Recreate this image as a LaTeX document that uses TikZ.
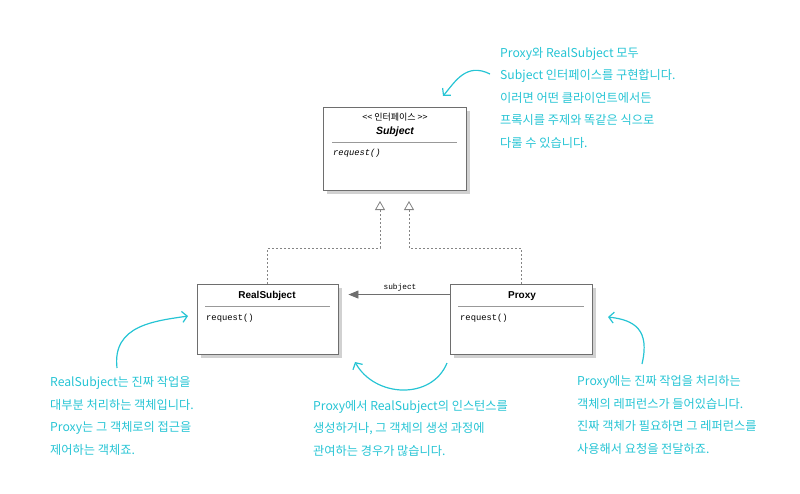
\documentclass[tikz,border=0pt]{standalone}
\usepackage{fontspec}
\setmainfont{Liberation Sans}
\newfontfamily\cjk{Noto Sans CJK KR}
\newfontfamily\monof{Liberation Mono}
\usetikzlibrary{arrows.meta,shadows,calc}
\definecolor{anno}{RGB}{38,196,212}
\definecolor{umlline}{RGB}{110,110,110}
\begin{document}
\begin{tikzpicture}[x=1pt,y=-1pt,
 umlbox/.style={draw=umlline, line width=0.9pt, fill=white, inner sep=0pt,
   drop shadow={shadow xshift=4pt, shadow yshift=-4pt, fill=black!18, opacity=1}},
 sepline/.style={draw=black!40, line width=0.8pt},
 boxtitle/.style={font=\fontsize{10}{12}\selectfont\bfseries, inner sep=0pt},
 method/.style={font=\monof\fontsize{8.8}{10}\selectfont, inner sep=0pt, anchor=west},
 realize/.style={draw=umlline!85, dash pattern=on 2pt off 2pt, line width=0.8pt,
   -{Triangle[open,length=9pt,width=10pt,fill=white]}},
 assoc/.style={draw=umlline, line width=0.9pt, -{Triangle[length=10pt,width=8pt]}},
 note/.style={font=\cjk\fontsize{12.2}{22.5}\selectfont, text=anno, align=left, anchor=base west, inner sep=0pt},
 pointer/.style={draw=anno, line width=1.2pt, -{Straight Barb[length=5pt,width=11pt]}}
]
\useasboundingbox (0,0) rectangle (800,493);

% boxes
\node[umlbox, minimum width=143pt, minimum height=83pt] (subj) at (394.5,148.5) {};
\node[umlbox, minimum width=141pt, minimum height=70pt] (rs) at (267.5,319) {};
\node[umlbox, minimum width=142pt, minimum height=70pt] (px) at (521,319) {};

% Subject contents
\node[font=\cjk\fontsize{9}{10}\selectfont, inner sep=0pt] (stereo) at (395,117) {<< 인터페이스 >>};
\node[boxtitle, font=\fontsize{10.5}{12}\selectfont\bfseries\itshape] (subjname) at (395,132) {Subject};
\draw[sepline] (332,142) -- (457,142);
\node[method, font=\monof\itshape\fontsize{8.8}{10}\selectfont] (subjm) at (333,153) {request()};

% RealSubject contents
\node[boxtitle] (rsname) at (267,296) {RealSubject};
\draw[sepline] (205,306) -- (330,306);
\node[method] (rsm) at (206,318) {request()};

% Proxy contents
\node[boxtitle] (pxname) at (522,296) {Proxy};
\draw[sepline] (458,306) -- (584,306);
\node[method] (pxm) at (460,318) {request()};

% realization
\coordinate (tipA) at (380,201);
\coordinate (tipB) at (409,201);
\draw[realize] (rs.north) |- ($(tipA)+(0,47)$) -- (tipA);
\draw[realize] (px.north) |- ($(tipB)+(0,47)$) -- (tipB);

% association
\draw[assoc] ([yshift=-11pt]px.north west) -- ([xshift=10pt,yshift=-11pt]rs.north east);
\node[font=\monof\fontsize{7.8}{9}\selectfont, inner sep=0pt] (assoclabel) at (400,287) {subject};

% notes (anchor = baseline of the last line)
\node[note] (n1) at (500,147) {Proxy와 RealSubject 모두\\Subject 인터페이스를 구현합니다.\\이러면 어떤 클라이언트에서든\\프록시를 주제와 똑같은 식으로\\다룰 수 있습니다.};
\node[note] (n2) at (50,454) {RealSubject는 진짜 작업을\\대부분 처리하는 객체입니다.\\Proxy는 그 객체로의 접근을\\제어하는 객체죠.};
\node[note] (n3) at (313,455) {Proxy에서 RealSubject의 인스턴스를\\생성하거나, 그 객체의 생성 과정에\\관여하는 경우가 많습니다.};
\node[note] (n4) at (577,453) {Proxy에는 진짜 작업을 처리하는\\객체의 레퍼런스가 들어있습니다.\\진짜 객체가 필요하면 그 레퍼런스를\\사용해서 요청을 전달하죠.};

% pointers
\coordinate (p1s) at (490,74);  \coordinate (p1e) at (443,96);
\coordinate (p2s) at (117,368); \coordinate (p2e) at (188,316);
\coordinate (p3s) at (447,363); \coordinate (p3e) at (355,362);
\coordinate (p4s) at (642,364); \coordinate (p4e) at (608,317);
\draw[pointer] (p1s) .. controls (466,62) and (455,82) .. (p1e);
\draw[pointer] (p2s) .. controls (112,325) and (155,321) .. (p2e);
\draw[pointer] (p3s) .. controls (432,400) and (375,398) .. (p3e);
\draw[pointer] (p4s) .. controls (650,330) and (635,320) .. (p4e);
\end{tikzpicture}
\end{document}
